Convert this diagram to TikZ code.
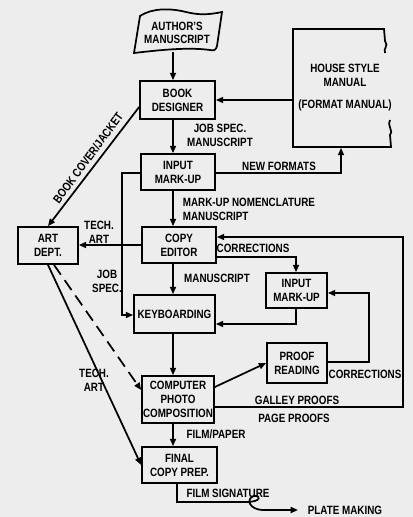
\documentclass[tikz,border=0pt]{standalone}
\usepackage{fontspec}
\setmainfont{Liberation Sans}[FakeStretch=0.82]
\usetikzlibrary{arrows.meta}

\tikzset{every picture/.style={line width=1.3pt}}
\tikzset{
  letters/.style={font=\fontsize{9}{10.5}\selectfont\bfseries},
  box/.style={draw, letters, align=center, inner sep=0.75pt},
  boxsize/.style 2 args={minimum width=#1*0.75pt, minimum height=#2*0.75pt},
  lbl/.style={letters, align=center, inner sep=0.75pt},
  arr/.style={-{Triangle[length=5.5pt,width=4.5pt]}},
}

\begin{document}
\begin{tikzpicture}[x=0.75pt,y=0.75pt,yscale=-1,xscale=1]
		%Shape: Background
		\fill [black!7] (0,0) rectangle (413,517) ;

		%Shape: Flag
		\draw  (140,16) .. controls (152,8) and (170,8) .. (186,12) .. controls (198,15) and (208,15) .. (222,12) -- (217,46) .. controls (216,50) and (214,51) .. (210,50) .. controls (188,47) and (160,50) .. (134,53) -- cycle ;
		%Shape: Torn Page
		\draw  (385,53) .. controls (383,48) and (389,46) .. (385,41) -- (384,29) -- (293,29) -- (293,147) -- (391,147) -- (390,135) .. controls (394,131) and (387,127) .. (390,120) ;

		% Boxes
		\node [lbl, boxsize={80}{36}] (am) at (177,33) {AUTHOR'S\\[-1pt]MANUSCRIPT};
		\node [lbl, boxsize={94}{118}] (hs) at (340,88) {};
		\node [lbl] (hsText) at (345,88) {HOUSE STYLE\\MANUAL\\[6pt](FORMAT MANUAL)};
		\node [box, boxsize={75}{38}] (bd) at (177.5,100) {BOOK\\DESIGNER};
		\node [box, boxsize={74}{36}] (im) at (178,172) {INPUT\\MARK-UP};
		\node [box, boxsize={74}{36}] (ce) at (179,245) {COPY\\EDITOR};
		\node [box, boxsize={81}{38}] (kb) at (174.5,314) {KEYBOARDING};
		\node [box, boxsize={72}{47}] (cp) at (178,399.5) {COMPUTER\\PHOTO\\COMPOSITION};
		\node [box, boxsize={75}{36}] (fc) at (179.5,465) {FINAL\\COPY PREP.};
		\node [box, boxsize={60}{37}] (art) at (48,245.5) {ART\\DEPT.};
		\node [box, boxsize={61}{35}] (im2) at (296.5,290.5) {INPUT\\MARK-UP};
		\node [box, boxsize={60}{40}] (pr) at (297,363) {PROOF\\READING};

		% Bends
		\coordinate (spine) at (173,0);
		\coordinate (c1) at (296,257);
		\coordinate (c2) at (296,324);
		\coordinate (c3) at (369,362);
		\coordinate (c4) at (369,293);
		\coordinate (c5) at (403,407);
		\coordinate (c6) at (403,237);
		\coordinate (c7) at (122,173);
		\coordinate (c8) at (122,315);
		\coordinate (c9) at (177,502);
		\coordinate (c10) at (341,173);
		\coordinate (c12) at (140,107);
		\coordinate (c13) at (142,390);
		\coordinate (c14) at (214,387);
		\coordinate (d1) at (54,264);
		\coordinate (pm) at (298,510);

		%Straight Lines
		\draw [arr] (am.south -| spine) -- (bd.north -| spine) ;
		\draw [arr] (hs.west |- bd.east) -- (bd.east) ;
		\draw [arr] (bd.south -| spine) -- (im.north -| spine) ;
		\draw [arr] (im.east |- c10) -- (c10) -- (hs.south -| c10) ;
		\draw [arr] (im.south -| spine) -- (ce.north -| spine) ;
		\draw [arr] (bd.west |- c12) -- (art.north) ;
		\draw [arr] (ce.west) -- (art.east |- ce.west) ;
		\draw [arr] (im.west |- c7) -- (c7) -- (c8) -- (kb.west |- c8) ;
		\draw [arr] (ce.south -| spine) -- (kb.north -| spine) ;
		\draw [arr] (ce.east |- c1) -- (c1) -- (im2.north -| c1) ;
		\draw [arr] (im2.south -| c2) -- (c2) -- (kb.east |- c2) ;
		\draw [arr] (kb.south -| spine) -- (cp.north -| spine) ;
		\draw [arr] (cp.east |- c14) -- (pr.west) ;
		\draw [arr] (pr.east |- c3) -- (c3) -- (c4) -- (im2.east |- c4) ;
		\draw [arr] (cp.east |- c5) -- (c5) -- (c6) -- (ce.east |- c6) ;
		\draw [arr] (cp.south -| spine) -- (fc.north -| spine) ;
		\draw [arr, dashed, dash pattern=on 9pt off 5pt] (art.south -| d1) -- (cp.west |- c13) ;
		\draw [arr] (art.south) -- (fc.west) ;
		\draw [arr] (fc.south -| c9) -- (c9) -- (246,502) .. controls (262,502) and (261,495) .. (254,496) .. controls (246,498) and (248,510) .. (264,510) -- (pm) ;

		% Text Node
		\node [lbl, rotate=53.7] (tBook) at (88,158) {BOOK COVER/JACKET};
		% Text Node
		\node [lbl] (tJob) at (220,135) {JOB SPEC.\\MANUSCRIPT};
		% Text Node
		\node [lbl] (tNew) at (279,166) {NEW FORMATS};
		% Text Node
		\node [lbl, anchor=west, align=left] (tNom) at (181,209) {MARK-UP NOMENCLATURE\\MANUSCRIPT};
		% Text Node
		\node [lbl] (tTech) at (99,232) {TECH.\\ART};
		% Text Node
		\node [lbl] (tSpec) at (107,281) {JOB\\SPEC.};
		% Text Node
		\node [lbl] (tCorr) at (253,248) {CORRECTIONS};
		% Text Node
		\node [lbl] (tMan) at (217,278) {MANUSCRIPT};
		% Text Node
		\node [lbl] (tCorr2) at (365,374) {CORRECTIONS};
		% Text Node
		\node [lbl] (tGal) at (297,400) {GALLEY PROOFS};
		% Text Node
		\node [lbl] (tPage) at (294,418) {PAGE PROOFS};
		% Text Node
		\node [lbl] (tTech2) at (94,380) {TECH.\\ART};
		% Text Node
		\node [lbl] (tFilm) at (216,434) {FILM/PAPER};
		% Text Node
		\node [lbl] (tSig) at (228,493) {FILM SIGNATURE};
		% Text Node
		\node [lbl, anchor=west] (tPlate) at (306,510) {PLATE MAKING};
\end{tikzpicture}
\end{document}
